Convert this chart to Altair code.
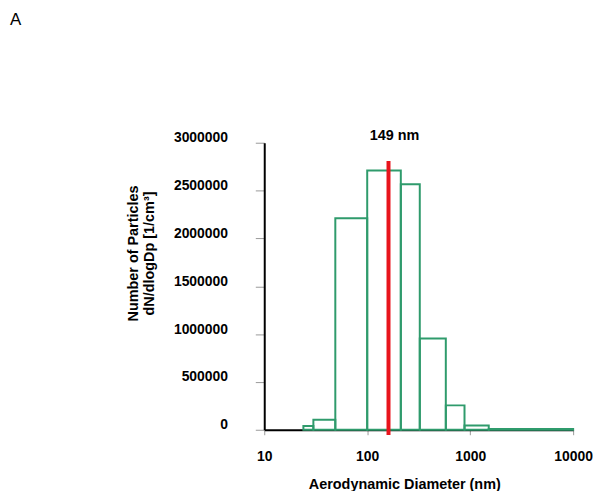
import altair as alt
import pandas as pd

# bin edges (nm) and dN/dlogDp values
bin_lo = [24, 30, 49, 100, 212, 324, 580, 881, 1515]
bin_hi = [30, 49, 100, 212, 324, 580, 881, 1515, 10000]
counts = [40000, 105000, 2210000, 2710000, 2565000, 955000, 255000, 45000, 8000]

median_nm = [161]
median_top = [2810000]
median_label = ["149 nm"]

x_ticks = [10, 100, 1000, 10000]
y_ticks = [0, 500000, 1000000, 1500000, 2000000, 2500000, 3000000]

bars_df = pd.DataFrame({"lo": bin_lo, "hi": bin_hi, "n": counts})
med_df = pd.DataFrame({"d": median_nm, "top": median_top, "bot": [-55000], "label": median_label})

FONT = "Liberation Sans"

xscale = alt.Scale(type="log", domain=[10, 10000], nice=False)
yscale = alt.Scale(domain=[0, 3000000], nice=False)

bars = alt.Chart(bars_df).mark_rect(
    fill=None, fillOpacity=0, stroke="#2f9b6c", strokeWidth=2
).encode(
    x=alt.X("lo:Q", scale=xscale,
            axis=alt.Axis(values=x_ticks, title="Aerodynamic Diameter (nm)",
                          format="d", grid=False, domainColor="black", domainWidth=2,
                          tickColor="#999999", tickSize=5, labelPadding=15,
                          labelFlush=False,
                          labelFont=FONT, labelFontSize=14, labelFontWeight="bold",
                          labelColor="black", titleFont=FONT, titleFontSize=14.5,
                          titleFontWeight="bold", titleColor="black", titlePadding=14,
                          titleX=141)),
    x2="hi:Q",
    y=alt.Y("n:Q", scale=yscale,
            axis=alt.Axis(values=y_ticks, title=["Number of Particles", "dN/dlogDp [1/cm³]"],
                          format="d", grid=False, domainColor="black", domainWidth=2,
                          tickColor="#999999", tickSize=9, labelPadding=28,
                          labelOffset=-5,
                          labelFont=FONT, labelFontSize=14, labelFontWeight="bold",
                          labelColor="black", titleFont=FONT, titleFontSize=14.5,
                          titleFontWeight="bold", titleColor="black",
                          titleX=-132, titleY=111, titleAlign="center",
                          titleBaseline="middle", titleLineHeight=16)),
    y2=alt.Y2(datum=0),
)

rule = alt.Chart(med_df).mark_rule(color="#e8141c", strokeWidth=4).encode(
    x=alt.X("d:Q", scale=xscale),
    y=alt.Y("top:Q", scale=yscale),
    y2="bot:Q",
)

label = alt.Chart(med_df).mark_text(
    font=FONT, fontSize=14.5, fontWeight="bold", color="black", baseline="middle", dx=6
).encode(
    x=alt.X("d:Q", scale=xscale),
    y=alt.value(-7),
    text="label:N",
)

panel = alt.Chart(pd.DataFrame({"t": ["A"]})).mark_text(
    font=FONT, fontSize=17, color="black", align="left", baseline="top"
).encode(
    x=alt.value(-256),
    y=alt.value(-132),
    text="t:N",
)

chart = alt.layer(bars, rule, label, panel).properties(
    width=311, height=289,
    padding={"left": 258, "top": 134, "right": 20, "bottom": 60},
    autosize="none",
).configure_view(stroke=None)

chart.save("out.html", embed_options={"renderer": "svg", "actions": False})
